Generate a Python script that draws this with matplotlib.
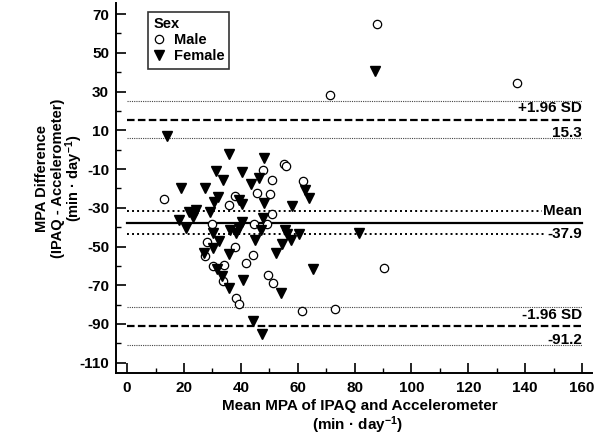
import matplotlib
matplotlib.use("Agg")
import matplotlib.pyplot as plt
from matplotlib.lines import Line2D
from matplotlib.ticker import MultipleLocator, FuncFormatter

plt.rcParams['font.family'] = ['Liberation Sans', 'DejaVu Sans']
plt.rcParams['font.weight'] = 'bold'
plt.rcParams['axes.labelweight'] = 'bold'
plt.rcParams['mathtext.default'] = 'regular'

# ---- data ----
female_x = [14.0, 36.0, 48.2, 31.3, 40.3, 33.6, 43.6, 46.3, 19.0, 27.4, 32.1, 30.6, 39.5, 40.3,
            48.2, 57.9, 62.6, 64.1, 21.9, 24.3, 23.1, 18.4, 20.7, 29.2, 47.9, 40.3, 30.3, 36.2,
            38.3, 39.5, 47.1, 45.0, 55.6, 56.2, 57.5, 60.6, 32.4, 30.1, 27.1, 36.0, 52.4, 54.4,
            31.5, 33.3, 36.0, 40.7, 54.1, 65.5, 44.4, 47.5, 81.7, 87.2]
female_y = [6.9, -2.2, -4.3, -11.0, -11.5, -15.5, -17.5, -14.6, -19.8, -19.8, -24.5, -27.1, -26.2, -28.0,
            -27.4, -29.1, -20.7, -25.0, -32.2, -31.4, -34.8, -36.5, -40.3, -32.2, -35.1, -37.2, -42.9, -41.7,
            -42.9, -40.3, -41.7, -46.8, -41.7, -43.8, -46.4, -43.8, -47.2, -50.6, -53.2, -54.1, -53.2, -48.9,
            -61.8, -65.3, -71.3, -67.5, -74.0, -61.8, -88.5, -95.0, -43.2, 40.8]

male_x = [13.0, 47.9, 55.3, 55.8, 51.1, 62.0, 45.6, 50.3, 38.0, 36.0, 51.1, 29.8, 44.8, 49.1,
          28.0, 27.4, 38.0, 44.2, 41.8, 30.1, 34.1, 33.9, 49.5, 51.2, 38.3, 39.5, 61.5, 73.1,
          87.8, 137.0, 71.4, 90.5]
male_y = [-25.6, -10.3, -7.2, -8.4, -15.8, -16.3, -22.4, -23.0, -24.1, -28.4, -33.1, -38.3, -38.3, -38.3,
          -47.7, -54.9, -50.1, -54.4, -58.4, -60.1, -59.6, -67.8, -64.7, -68.7, -76.6, -79.5, -83.5, -82.3,
          64.8, 34.5, 28.4, -61.3]

mean_diff = -37.9
upper_loa = 15.3
lower_loa = -91.2
mean_ci = [-31.8, -43.8]
upper_ci = [25.2, 6.0]
lower_ci = [-81.2, -100.8]

x_ticks = list(range(0, 161, 20))
y_ticks = list(range(-110, 71, 20))

# ---- figure ----
fig = plt.figure(figsize=(6.0, 4.43), dpi=100)
ax = fig.add_axes([116/600, 1-373/443, (592-116)/600, (373-3)/443])

xs = [0, 160]
for v in upper_ci + lower_ci:
    ax.plot(xs, [v, v], color='#444444', lw=0.8, ls=(0, (1, 1)), zorder=1)
for v in mean_ci:
    ax.plot(xs, [v, v], color='black', lw=1.4, ls=(0, (1, 1.6)), zorder=1)
ax.plot(xs, [mean_diff, mean_diff], color='black', lw=1.6, zorder=1)
for v in (upper_loa, lower_loa):
    ax.plot(xs, [v, v], color='black', lw=1.6, ls=(0, (3.4, 1.5)), zorder=1)

ax.plot(male_x, male_y, ls='none', marker='o', ms=6.0, mfc='white', mec='black', mew=0.9, zorder=3)
ax.plot(female_x, female_y, ls='none', marker='v', ms=7.5, mfc='black', mec='black', zorder=4)

fs_lab = 11
ax.text(160, 21.3, '+1.96 SD', ha='right', va='center', fontsize=fs_lab, fontweight='bold')
ax.text(160, 8.6, '15.3', ha='right', va='center', fontsize=fs_lab, fontweight='bold')
ax.text(160, mean_ci[0], 'Mean', ha='right', va='center', fontsize=fs_lab, fontweight='bold',
        bbox=dict(facecolor='white', edgecolor='none', pad=1.0), zorder=5)
ax.text(160, mean_ci[1], '-37.9', ha='right', va='center', fontsize=fs_lab, fontweight='bold',
        bbox=dict(facecolor='white', edgecolor='none', pad=1.0), zorder=5)
ax.text(160, -85.4, '-1.96 SD', ha='right', va='center', fontsize=fs_lab, fontweight='bold')
ax.text(160, -98.3, '-91.2', ha='right', va='center', fontsize=fs_lab, fontweight='bold')

ax.set_xlim(-3.9, 163.5)
ax.set_ylim(-115.3, 75.7)
ax.set_xticks(x_ticks)
ax.set_yticks(y_ticks)
ax.xaxis.set_minor_locator(MultipleLocator(10))
ax.set_yticks([v + 10 for v in y_ticks[:-1]], minor=True)
ax.tick_params(axis='both', which='major', direction='in', length=7.5, width=1.2, labelsize=11, pad=5)
ax.tick_params(axis='both', which='minor', direction='in', length=3.5, width=1.0)
ax.tick_params(axis='x', which='major', pad=6)
ax.yaxis.set_major_formatter(FuncFormatter(lambda v, p: '%d' % v))
ax.xaxis.set_major_formatter(FuncFormatter(lambda v, p: '%d' % v))
for lbl in ax.get_xticklabels() + ax.get_yticklabels():
    lbl.set_fontweight('bold')

for s in ('top', 'right'):
    ax.spines[s].set_visible(False)
for s in ('left', 'bottom'):
    ax.spines[s].set_linewidth(1.4)

unit = '(min \u00b7 day$^{-1}$)'
fs_ax = 10.5
ylab_lines = ['MPA Difference', '(IPAQ - Accelerometer)', unit]
ylab_base_x = [46, 62, 79]
for txt, bx in zip(ylab_lines, ylab_base_x):
    fig.text(bx/600, 1-178/443, txt, rotation=90, rotation_mode='anchor', ha='center',
             va='baseline', fontsize=fs_ax, fontweight='bold')
fig.text(360/600, 1-410/443, 'Mean MPA of IPAQ and Accelerometer', ha='center', va='baseline',
         fontsize=11, fontweight='bold')
fig.text(358/600, 1-430/443, unit, ha='center', va='baseline', fontsize=11, fontweight='bold')

handles = [Line2D([], [], ls='none', marker='o', ms=6.0, mfc='white', mec='black', mew=0.9),
           Line2D([], [], ls='none', marker='v', ms=7.5, mfc='black', mec='black')]
leg = ax.legend(handles, ['Male', 'Female'], title='Sex', loc='upper left',
                bbox_to_anchor=(32/476, 1-9/370), borderaxespad=0, frameon=True, fancybox=False,
                edgecolor='black', fontsize=10.5, title_fontproperties={'weight': 'bold', 'size': 10.5},
                handlelength=0.8, handletextpad=0.6, borderpad=0.35, labelspacing=0.15,
                alignment='left')
leg.get_frame().set_linewidth(1.2)
for t in leg.get_texts():
    t.set_fontweight('bold')

fig.savefig('out.png', dpi=100)
